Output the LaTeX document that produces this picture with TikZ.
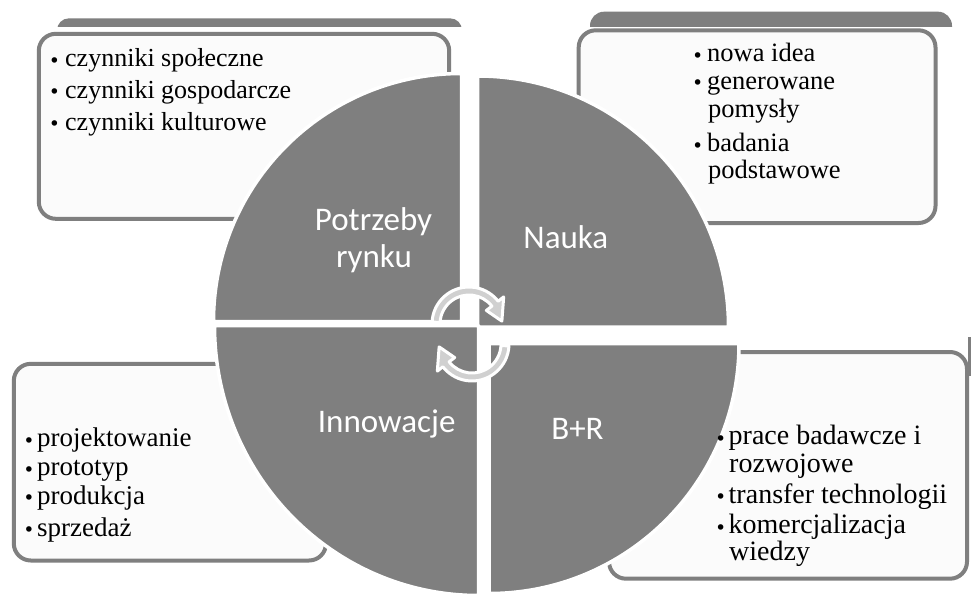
\documentclass[tikz,border=0pt]{standalone}
\usepackage{fontspec}
\setmainfont{Liberation Serif}
\newfontfamily\labelfont{Carlito}
\newfontfamily\dotfont{DejaVu Sans}
\definecolor{sectorgray}{RGB}{127,127,127}
\definecolor{boxfill}{RGB}{251,251,251}
\definecolor{arrowgray}{RGB}{208,208,208}
% bullet hanging to the left of an item line
\newcommand\bul[1]{\llap{{\dotfont\fontsize{19}{19}\selectfont\raisebox{-0.5pt}{•}}\kern#1}}
\begin{document}
\begin{tikzpicture}[x=1pt,y=-1pt,
  sector/.style={fill=sectorgray, draw=white, line width=3.5pt, line join=round},
  infobox/.style={fill=boxfill, draw=sectorgray, line width=4pt, rounded corners=17pt},
  sectorlabel/.style={anchor=base, inner sep=0pt, text=white, font=\labelfont\fontsize{33}{33}\selectfont},
  itemtext/.style={anchor=base west, inner sep=0pt, text=black},
  cyclearrow/.style={fill=arrowgray, draw=white, line width=3pt, line join=round}
]
\useasboundingbox (0,0) rectangle (971,597);
\fill[white] (0,0) rectangle (971,597);

% back shapes peeking out behind the boxes
\begin{scope}
  \clip (0,0) rectangle (971,26);
  \fill[sectorgray, rounded corners=12pt] (57,18.3) rectangle (462,70);
  \fill[sectorgray, rounded corners=14pt] (590,11.7) rectangle (952,70);
\end{scope}
\fill[sectorgray] (967.8,337) rectangle (971,376);

% text boxes
\draw[infobox] (38.8,33.8) rectangle (449.2,218.8);
\draw[infobox] (578.7,30.3) rectangle (935.5,223);
\draw[infobox] (13.8,363.8) rectangle (326,560.5);
\draw[infobox] (609,352) rectangle (967,578.7);

% the four quarters of the cycle
\filldraw[sector] (461.5,321.5) -- ++(-248,0) arc[start angle=180, end angle=270, radius=248] -- cycle;
\filldraw[sector] (477.5,327) -- ++(0,-251) arc[start angle=270, end angle=360, radius=251] -- cycle;
\filldraw[sector] (478.5,325.5) -- ++(0,270) arc[start angle=90, end angle=180, x radius=264, y radius=270] -- cycle;
\filldraw[sector] (489,343.5) -- ++(250,0) arc[start angle=0, end angle=90, radius=250] -- cycle;

\node[sectorlabel] (potrzeby) at (373.5,230) {Potrzeby};
\node[sectorlabel] (rynku) at (374,267) {rynku};
\node[sectorlabel] (nauka) at (565.8,248.3) {Nauka};
\node[sectorlabel] (innowacje) at (386.7,432.5) {Innowacje};
\node[sectorlabel] (bir) at (577.5,439.7) {B+R};

% box contents
\begin{scope}[every node/.style={itemtext, font=\fontsize{26}{26}\selectfont}]
  \node (tl-a) at (65,66.7)  {\bul{5pt}czynniki społeczne};
  \node (tl-b) at (65,98.3)  {\bul{5pt}czynniki gospodarcze};
  \node (tl-c) at (65,130)   {\bul{5pt}czynniki kulturowe};
\end{scope}
\begin{scope}[every node/.style={itemtext, font=\fontsize{26.5}{26.5}\selectfont}]
  \node (tr-a) at (707,61.5)  {\bul{4pt}nowa idea};
  \node (tr-b) at (707,89)    {\bul{4pt}generowane};
  \node (tr-c) at (708,117)   {pomysły};
  \node (tr-d) at (707,151.5) {\bul{4pt}badania};
  \node (tr-e) at (708,178.5) {podstawowe};
\end{scope}
\begin{scope}[every node/.style={itemtext, font=\fontsize{27}{27}\selectfont}]
  \node (bl-a) at (37,446.5) {\bul{2.5pt}projektowanie};
  \node (bl-b) at (37,475.5) {\bul{2.5pt}prototyp};
  \node (bl-c) at (37,504)   {\bul{2.5pt}produkcja};
  \node (bl-d) at (37,536)   {\bul{2.5pt}sprzedaż};
\end{scope}
\begin{scope}[every node/.style={itemtext, font=\fontsize{28}{28}\selectfont}]
  \node (br-a) at (728.5,444.5) {\bul{2.5pt}prace badawcze i};
  \node (br-b) at (729,472)     {rozwojowe};
  \node (br-c) at (728.5,503)   {\bul{2.5pt}transfer technologii};
  \node (br-d) at (728.5,533.5) {\bul{2.5pt}komercjalizacja};
  \node (br-e) at (729,560.5)   {wiedzy};
\end{scope}

% circular arrows in the middle
\coordinate (c1) at (469,324);
\coordinate (c2) at (472,344);
\filldraw[cyclearrow] ([shift={(183:37)}]c1) arc[start angle=183, end angle=322, radius=37]
  -- ([shift={(322:44)}]c1) -- ([shift={(355:33)}]c1) -- ([shift={(322:22)}]c1)
  -- ([shift={(322:29)}]c1) arc[start angle=322, end angle=183, radius=29] -- cycle;
\filldraw[cyclearrow] ([shift={(3:37)}]c2) arc[start angle=3, end angle=142, radius=37]
  -- ([shift={(142:44)}]c2) -- ([shift={(175:33)}]c2) -- ([shift={(142:22)}]c2)
  -- ([shift={(142:29)}]c2) arc[start angle=142, end angle=3, radius=29] -- cycle;
\end{tikzpicture}
\end{document}
